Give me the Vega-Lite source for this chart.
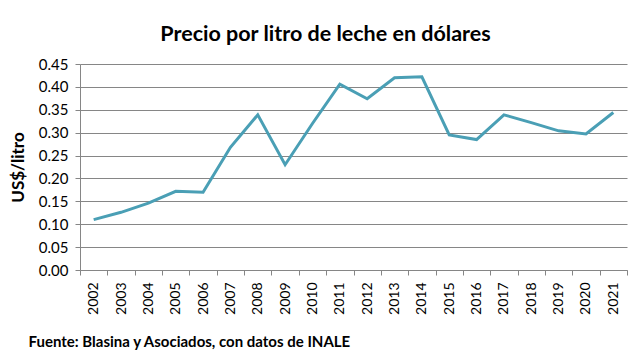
{
  "$schema": "https://vega.github.io/schema/vega-lite/v6.json",
  "autosize": "none",
  "width": 547,
  "height": 206,
  "padding": {"left": 80, "top": 64, "right": 7, "bottom": 85},
  "background": "white",
  "title": {
    "text": "Precio por litro de leche en dólares",
    "font": "Lato",
    "fontSize": 21.5,
    "fontWeight": "bold",
    "color": "#000000",
    "anchor": "middle",
    "dx": -28,
    "offset": 12
  },
  "data": {
    "values": [
      {"year": "2002", "price": 0.110},
      {"year": "2003", "price": 0.126},
      {"year": "2004", "price": 0.146},
      {"year": "2005", "price": 0.172},
      {"year": "2006", "price": 0.170},
      {"year": "2007", "price": 0.268},
      {"year": "2008", "price": 0.339},
      {"year": "2009", "price": 0.230},
      {"year": "2010", "price": 0.320},
      {"year": "2011", "price": 0.406},
      {"year": "2012", "price": 0.374},
      {"year": "2013", "price": 0.420},
      {"year": "2014", "price": 0.422},
      {"year": "2015", "price": 0.295},
      {"year": "2016", "price": 0.285},
      {"year": "2017", "price": 0.339},
      {"year": "2018", "price": 0.322},
      {"year": "2019", "price": 0.304},
      {"year": "2020", "price": 0.297},
      {"year": "2021", "price": 0.344}
    ]
  },
  "mark": {"type": "line", "color": "#4a9fb5", "strokeWidth": 3},
  "encoding": {
    "x": {
      "field": "year",
      "type": "ordinal",
      "scale": {"type": "band", "paddingInner": 0, "paddingOuter": 0},
      "axis": {
        "title": "Fuente: Blasina y Asociados, con datos de INALE",
        "titleFont": "Lato",
        "titleFontSize": 15,
        "titleFontWeight": "bold",
        "titleColor": "#000000",
        "titleAnchor": "start",
        "titleAlign": "left",
        "titleBaseline": "alphabetic",
        "titleX": -52,
        "titleY": 76,
        "labelAngle": -90,
        "labelFont": "Lato",
        "labelFontSize": 14,
        "labelColor": "#000000",
        "labelPadding": 7,
        "tickBand": "extent",
        "tickColor": "#868686",
        "tickSize": 5,
        "domainColor": "#868686",
        "grid": false
      }
    },
    "y": {
      "field": "price",
      "type": "quantitative",
      "scale": {"domain": [0, 0.45], "nice": false},
      "axis": {
        "title": "US$/litro",
        "titleFont": "Lato",
        "titleFontSize": 17,
        "titleFontWeight": "bold",
        "titleColor": "#000000",
        "titlePadding": 11,
        "values": [0, 0.05, 0.1, 0.15, 0.2, 0.25, 0.3, 0.35, 0.4, 0.45],
        "format": ".2f",
        "labelFont": "Lato",
        "labelFontSize": 15,
        "labelColor": "#000000",
        "labelPadding": 7,
        "tickColor": "#868686",
        "tickSize": 5,
        "domainColor": "#868686",
        "gridColor": "#868686",
        "gridOpacity": 1
      }
    }
  },
  "config": {"view": {"stroke": null}}
}
